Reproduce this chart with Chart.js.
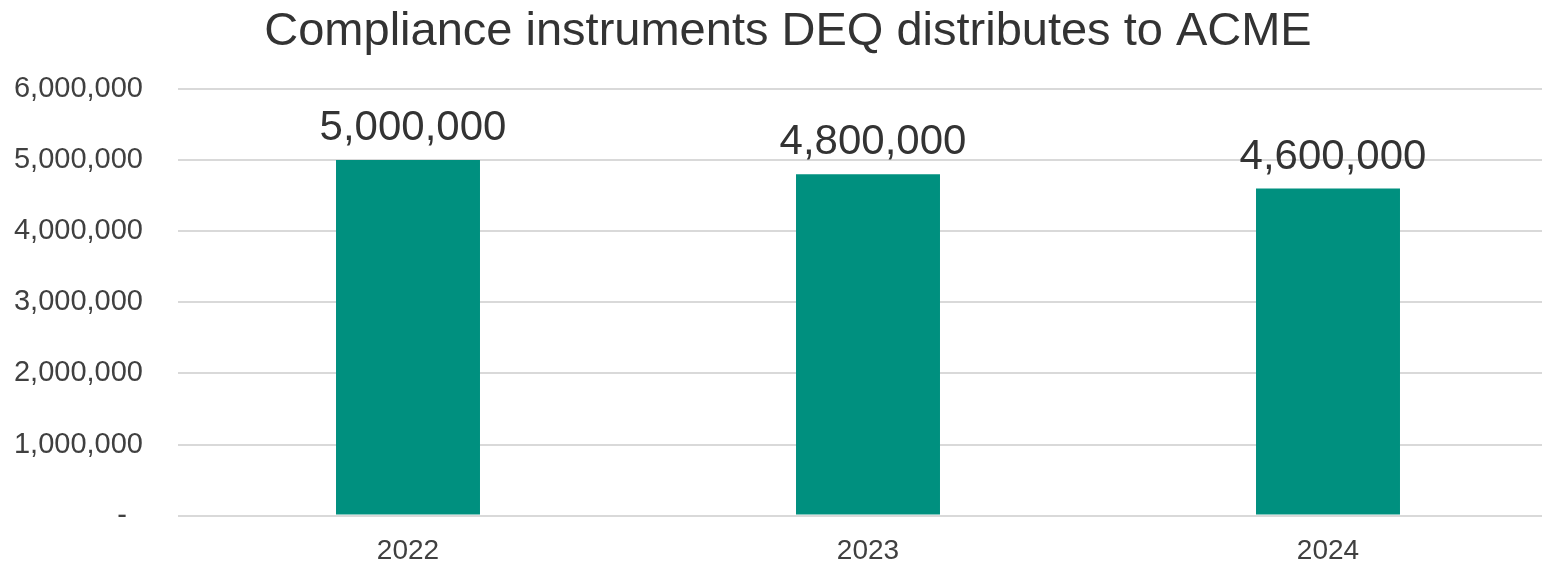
<!DOCTYPE html>
<html>
<head>
<meta charset="utf-8">
<script src="https://cdn.jsdelivr.net/npm/chart.js@4"></script>
<style>
  html, body { margin: 0; padding: 0; background: #fff; overflow: hidden; }
  #wrap { width: 1542px; height: 568px; overflow: hidden; position: relative; }
  #deqChart { display: block; }
</style>
</head>
<body>
<div id="wrap"><canvas id="deqChart" width="1558" height="568"></canvas></div>
<script>
// Dados do gráfico
const chartTitle = 'Compliance instruments DEQ distributes to ACME';
const years = ['2022', '2023', '2024'];
const instruments = [5000000, 4800000, 4600000];
const yTicks = [0, 1000000, 2000000, 3000000, 4000000, 5000000, 6000000];

const fontFamily = '"Liberation Sans", Arial, sans-serif';

function fmt(v) {
    return v.toLocaleString('en-US');
}

// Título desenhado à mão (centro levemente deslocado como no original)
const titlePlugin = {
    id: 'manualTitle',
    afterDraw(chart) {
        const ctx = chart.ctx;
        ctx.save();
        ctx.font = '47px ' + fontFamily;
        ctx.fillStyle = '#333333';
        ctx.textAlign = 'center';
        ctx.textBaseline = 'alphabetic';
        ctx.fillText(chartTitle, 788, 45);
        ctx.restore();
    }
};

// Rótulos de valor acima das barras
const valueLabels = {
    id: 'valueLabels',
    afterDatasetsDraw(chart) {
        const ctx = chart.ctx;
        const meta = chart.getDatasetMeta(0);
        ctx.save();
        ctx.font = '42px ' + fontFamily;
        ctx.fillStyle = '#333333';
        ctx.textAlign = 'center';
        ctx.textBaseline = 'alphabetic';
        meta.data.forEach((bar, i) => {
            ctx.fillText(fmt(chart.data.datasets[0].data[i]), bar.x + 5, bar.y - 20);
        });
        ctx.restore();
    }
};

const ctx = document.getElementById('deqChart').getContext('2d');
new Chart(ctx, {
    type: 'bar',
    data: {
        labels: years,
        datasets: [{
            label: 'Compliance instruments',
            data: instruments,
            backgroundColor: '#00907F',
            barPercentage: 0.313,
            categoryPercentage: 1
        }]
    },
    options: {
        responsive: false,
        animation: false,
        layout: { padding: { top: 89 } },
        plugins: {
            legend: { display: false },
            tooltip: { enabled: false },
            title: { display: false }
        },
        scales: {
            x: {
                grid: { display: false },
                border: { display: false },
                ticks: {
                    color: '#404040',
                    font: { family: fontFamily, size: 28 },
                    padding: 11
                },
                afterFit(scale) { scale.height = 47; }
            },
            y: {
                min: 0,
                max: 6000000,
                afterBuildTicks(scale) {
                    scale.ticks = yTicks.map(v => ({ value: v }));
                },
                grid: { color: '#d9d9d9', lineWidth: 2, drawTicks: false },
                border: { display: false },
                ticks: {
                    color: '#404040',
                    font: { family: fontFamily, size: 29 },
                    padding: 35,
                    callback: v => v === 0 ? '-  ' : fmt(v)
                },
                afterFit(scale) { scale.width = 178; }
            }
        }
    },
    plugins: [valueLabels, titlePlugin]
});
</script>
</body>
</html>
